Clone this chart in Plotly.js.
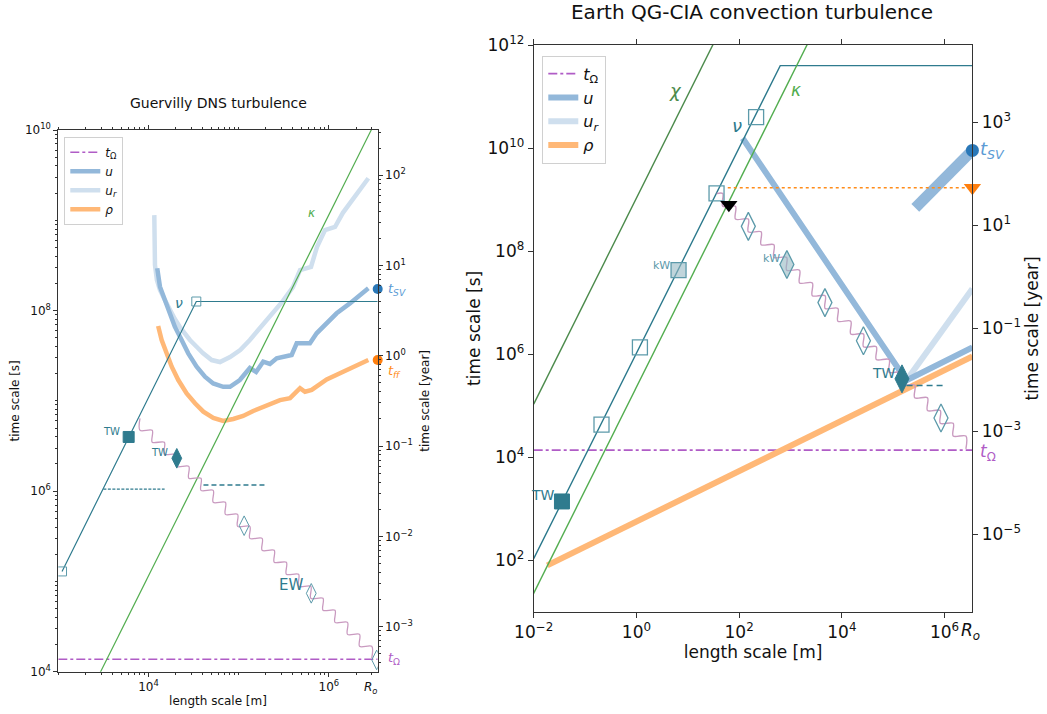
<!DOCTYPE html>
<html><head><meta charset="utf-8">
<script src="https://cdn.plot.ly/plotly-3.0.1.min.js"></script>
<style>body{margin:0;background:#fff}#plot{width:1047px;height:714px}</style>
</head><body><div id="plot"></div><script>
// ---------------- data ----------------
const Ro = 3.48e6;            // core radius [m]
const tOmega = 1.37e4;        // rotation time [s]
const secPerYear = 3.156e7;

// Left panel: Guervilly DNS turbulence
const gUrL = [1.16e4,1.16e4,1.18e4,1.24e4,1.34e4,1.52e4,1.73e4,1.96e4,2.23e4,2.53e4,2.88e4,3.44e4,4.01e4,5.02e4,6.21e4,8.02e4,1.04e5,1.33e5,1.72e5,2.22e5,3.10e5,4.00e5,4.79e5,6.34e5,7.38e5,9.06e5,1.17e6,1.43e6,1.72e6,2.21e6,2.74e6];
const gUrT = [1.14e9,6.05e8,3.20e8,2.18e8,1.69e8,1.31e8,1.01e8,8.05e7,6.57e7,5.50e7,4.72e7,3.95e7,3.39e7,2.83e7,2.69e7,3.06e7,3.66e7,4.72e7,6.41e7,8.49e7,1.28e8,1.82e8,2.81e8,3.04e8,5.06e8,7.80e8,8.43e8,1.21e9,1.55e9,2.16e9,2.92e9];
const gUL = [1.25e4,1.34e4,1.52e4,1.73e4,1.96e4,2.33e4,2.76e4,3.42e4,4.23e4,5.22e4,6.74e4,8.02e4,1.03e5,1.33e5,1.56e5,1.87e5,2.22e5,2.64e5,3.12e5,3.87e5,4.40e5,6.17e5,7.32e5,9.46e5,1.22e6,1.71e6,2.74e6];
const gUT = [2.94e8,1.84e8,1.31e8,9.33e7,6.63e7,4.72e7,3.36e7,2.39e7,1.85e7,1.56e7,1.43e7,1.43e7,1.70e7,2.31e7,2.09e7,2.72e7,2.56e7,2.96e7,3.08e7,3.22e7,4.34e7,4.34e7,5.60e7,7.23e7,9.33e7,1.20e8,1.77e8];
const gRhoL = [1.28e4,1.40e4,1.59e4,1.81e4,2.14e4,2.65e4,3.28e4,4.06e4,5.23e4,6.74e4,8.71e4,1.12e5,1.45e5,2.04e5,2.87e5,3.71e5,4.79e5,5.44e5,6.45e5,9.46e5,1.57e6,2.74e6];
const gRhoT = [6.75e7,4.72e7,3.36e7,2.39e7,1.70e7,1.21e7,9.39e6,7.59e6,6.46e6,5.98e6,6.30e6,6.80e6,7.72e6,9.00e6,1.02e7,1.07e7,1.38e7,1.26e7,1.32e7,1.73e7,2.20e7,2.83e7];
const gNuL = [1.10e3,3.39e4,Ro], gNuT = [1.29e5,1.26e8,1.26e8];
const gKapL = [2.5e3,3.55e6], gKapT = [7.2e3,1.45e10];
const gWaveL = [8.05e3,1.10e4,1.50e4,2.05e4,2.80e4,3.82e4,5.22e4,7.13e4,9.73e4,1.33e5,1.82e5,2.48e5,3.38e5,4.62e5,6.31e5,8.61e5,1.17e6,1.61e6,2.19e6,2.99e6];
const gWaveT = [6.41e6,4.72e6,3.48e6,2.56e6,1.88e6,1.39e6,1.02e6,7.52e5,5.53e5,4.07e5,3.00e5,2.21e5,1.63e5,1.20e5,8.83e4,6.50e4,4.79e4,3.52e4,2.59e4,1.91e4,1.41e4];
const gDash1L = [3.16e3,1.51e4], gDash1T = [1.05e6,1.05e6];
const gDash2L = [4.07e4,2.0e5],  gDash2T = [1.17e6,1.17e6];
const gSqOpenL = [1.10e3,3.39e4], gSqOpenT = [1.29e5,1.26e8];
const gSqTWL = [6.03e3], gSqTWT = [3.98e6];
const gDiaTWL = [2.06e4], gDiaTWT = [2.31e6];
const gDiaOpenL = [1.15e5,6.38e5,3.39e6], gDiaOpenT = [4.14e5,7.38e4,1.35e4];
const gTsvYear = 5.5, gTffYear = 0.90;   // secular-variation and free-fall times [year]

// Right panel: Earth QG-CIA convection turbulence
const eRhoL = [0.0184,Ro], eRhoT = [79.4,9.0e5];
const eUL = [117,1.8e5,Ro], eUT = [1.55e10,3.09e5,1.35e6];
const eUrL = [1.8e5,Ro], eUrT = [3.09e5,1.86e7];
const eSvL = [2.69e5,Ro], eSvT = [6.92e8,9.0e9];
const eChiL = [0.01,40], eChiT = [1.07e5,1.7e12];
const eNuL = [0.01,631,Ro], eNuT = [107,3.98e11,3.98e11];
const eKapL = [0.005,3000], eKapT = [5.7,2.06e12];
const eWaveL = [36.6,47.9,84.9,151,268,475,843,1.50e3,2.66e3,4.72e3,8.37e3,1.49e4,2.64e4,4.68e4,8.31e4,1.48e5,2.62e5,4.65e5,8.24e5,1.47e6,2.60e6];
const eWaveT = [1.31e9,7.38e8,4.18e8,2.36e8,1.33e8,7.54e7,4.26e7,2.41e7,1.36e7,7.71e6,4.36e6,2.46e6,1.39e6,7.87e5,4.45e5,2.51e5,1.42e5,8.04e4,4.54e4,2.57e4,1.45e4];
const eDashL = [1.82e5,1.0e6], eDashT = [2.45e5,2.45e5];
const eDotL = [60,Ro], eDotT = [1.70e9,1.70e9];
const eSqOpenL = [0.209,1.17,36.3,214], eSqOpenT = [4.27e4,1.35e6,1.32e9,3.98e10];
const eSqTWL = [0.0355], eSqTWT = [1.38e3];
const eSqKWL = [6.61], eSqKWT = [4.27e7];
const eDiaOpenL = [151,4.68e3,2.63e4,8.51e5], eDiaOpenT = [3.02e8,1.0e7,1.82e6,5.75e4];
const eDiaKWL = [851], eDiaKWT = [5.50e7];
const eDiaTWL = [1.48e5], eDiaTWT = [3.31e5];
const eTriBlackL = [63.1], eTriBlackT = [7.94e8];
const eTsvYear = 285, eTorangeYear = 54;  // [year]

// ---------------- styling ----------------
const FONT = 'DejaVu Sans, Liberation Sans, sans-serif';
const W = 1047, H = 714;
const px = x => x / W, py = y => 1 - y / H;
const teal = '#2f7b8e', purple = '#b05cc6', waveC = '#c99ac0';
const green = '#52ad4f', dgreen = '#4b8a4b';
const uC = '#93b8da', urC = '#cfdfee', rhoC = '#ffb877';

// staircase path: at each step position the curve drops to the next level
function stairs(Ls, Ts) {
  const x = [], y = [];
  for (let k = 0; k < Ls.length; k++) {
    x.push(Ls[k]); y.push(Ts[k]);
    x.push(Ls[k]); y.push(Ts[k + 1]);
  }
  return {x, y};
}
function stairsFlatFirst(Ls, Ts) {
  const x = [Ls[0]], y = [Ts[0]];
  for (let k = 1; k < Ls.length; k++) {
    x.push(Ls[k]); y.push(Ts[k - 1]);
    x.push(Ls[k]); y.push(Ts[k]);
  }
  return {x, y};
}
function minorVals(lo, hi, skip) {
  const v = [];
  for (let e = lo; e < hi; e++) for (let m = 1; m < 10; m++) {
    const val = m * Math.pow(10, e);
    if (!skip.some(s => Math.abs(s - val) / s < 1e-9)) v.push(val);
  }
  return v;
}
const sup = e => '10<sup>' + (e < 0 ? '\u2212' + (-e) : e) + '</sup>';

const gW = stairs(gWaveL, gWaveT);
const eW = stairsFlatFirst(eWaveL, eWaveT);

const L = {xaxis: 'x', yaxis: 'y', hoverinfo: 'skip'};
const L2 = {xaxis: 'x', yaxis: 'y2', hoverinfo: 'skip'};
const R = {xaxis: 'x2', yaxis: 'y3', hoverinfo: 'skip', legend: 'legend2'};
const R2 = {xaxis: 'x2', yaxis: 'y4', hoverinfo: 'skip', legend: 'legend2'};
const line = (x, y, col, w, extra) => Object.assign({x, y, mode: 'lines', showlegend: false, line: {color: col, width: w}}, extra || {});
const mk = (x, y, sym, size, col, fill, lw, extra) => Object.assign({x, y, mode: 'markers', showlegend: false,
  marker: {symbol: sym, size, color: fill, line: {color: col, width: lw}}}, extra || {});

const traces = [
  // ----- left panel -----
  Object.assign(line([1e3, Ro], [tOmega, tOmega], purple, 1.5, {name: '<i>t</i><sub>\u03a9</sub>', showlegend: true, legendrank: 1}), L, {line: {color: purple, width: 1.5, dash: 'dashdot'}}),
  Object.assign(line(gUrL, gUrT, urC, 4.5, {name: '<i>u<sub>r</sub></i>', showlegend: true, legendrank: 3}), L),
  Object.assign(line(gUL, gUT, uC, 4.5, {name: '<i>u</i>', showlegend: true, legendrank: 2}), L),
  Object.assign(line(gRhoL, gRhoT, rhoC, 4.5, {name: '<i>\u03c1</i>', showlegend: true, legendrank: 4}), L),
  Object.assign(line(gNuL, gNuT, teal, 1.2), L),
  Object.assign(line(gKapL, gKapT, green, 1.2), L),
  Object.assign(line(gW.x, gW.y, waveC, 1.3, {line: {color: waveC, width: 1.3, shape: 'spline', smoothing: 0.9}}), L),
  Object.assign(line(gDash1L, gDash1T, teal, 1.3, {line: {color: teal, width: 1.3, dash: '3px,1.5px'}}), L),
  Object.assign(line(gDash2L, gDash2T, teal, 1.3, {line: {color: teal, width: 1.3, dash: '5px,3px'}}), L),
  Object.assign(mk(gSqOpenL, gSqOpenT, 'square', 9, '#5c9aaa', 'rgba(255,255,255,0)', 1), L),
  Object.assign(mk(gSqTWL, gSqTWT, 'square', 11, teal, teal, 1), L),
  Object.assign(mk(gDiaTWL, gDiaTWT, 'diamond-tall', 14, teal, teal, 1), L),
  Object.assign(mk(gDiaOpenL, gDiaOpenT, 'diamond-tall', 14, '#5c9aaa', 'rgba(255,255,255,0)', 1), L),
  Object.assign(mk([Ro], [gTsvYear], 'circle', 10, '#2a78b8', '#2a78b8', 0, {cliponaxis: false}), L2),
  Object.assign(mk([Ro], [gTffYear], 'circle', 10, '#ff7f0e', '#ff7f0e', 0, {cliponaxis: false}), L2),
  // ----- right panel -----
  Object.assign(line([0.01, Ro], [tOmega, tOmega], purple, 1.6, {name: '<i>t</i><sub>\u03a9</sub>', showlegend: true, legendrank: 1}), R, {line: {color: purple, width: 1.6, dash: 'dashdot'}}),
  Object.assign(line(eRhoL, eRhoT, rhoC, 6, {name: '<i>\u03c1</i>', showlegend: true, legendrank: 4}), R),
  Object.assign(line(eUrL, eUrT, urC, 6, {name: '<i>u<sub>r</sub></i>', showlegend: true, legendrank: 3}), R),
  Object.assign(line(eUL, eUT, uC, 6, {name: '<i>u</i>', showlegend: true, legendrank: 2}), R),
  Object.assign(line(eSvL, eSvT, uC, 11), R),
  Object.assign(line(eChiL, eChiT, dgreen, 1.4), R),
  Object.assign(line(eNuL, eNuT, teal, 1.4), R),
  Object.assign(line(eKapL, eKapT, green, 1.4), R),
  Object.assign(line(eW.x, eW.y, waveC, 1.4, {line: {color: waveC, width: 1.4, shape: 'spline', smoothing: 0.9}}), R),
  Object.assign(line(eDashL, eDashT, teal, 1.5, {line: {color: teal, width: 1.5, dash: '6px,4px'}}), R),
  Object.assign(line(eDotL, eDotT, '#ff8c1a', 1.6, {line: {color: '#ff8c1a', width: 1.6, dash: 'dot'}}), R),
  Object.assign(mk(eSqOpenL, eSqOpenT, 'square', 15, '#5c9aaa', 'rgba(255,255,255,0)', 1.3), R),
  Object.assign(mk(eSqTWL, eSqTWT, 'square', 15, teal, teal, 1), R),
  Object.assign(mk(eSqKWL, eSqKWT, 'square', 15, '#5c9aaa', 'rgba(150,185,195,0.6)', 1.3), R),
  Object.assign(mk(eDiaOpenL, eDiaOpenT, 'diamond-tall', 20, '#5c9aaa', 'rgba(255,255,255,0)', 1.3), R),
  Object.assign(mk(eDiaKWL, eDiaKWT, 'diamond-tall', 20, '#5c9aaa', 'rgba(150,185,195,0.6)', 1.3), R),
  Object.assign(mk(eDiaTWL, eDiaTWT, 'diamond-tall', 20, teal, teal, 1), R),
  Object.assign(mk(eTriBlackL, eTriBlackT, 'triangle-down', 15, '#000', '#000', 0), R),
  Object.assign(mk([Ro], [eTorangeYear], 'triangle-down', 15, '#ff7f0e', '#ff7f0e', 0, {cliponaxis: false}), R2),
  Object.assign(mk([Ro], [eTsvYear], 'circle', 13, '#2a78b8', '#2a78b8', 0, {cliponaxis: false}), R2),
];

const axBase = {type: 'log', showgrid: false, zeroline: false, showline: true, linecolor: '#333', linewidth: 1,
  ticks: 'outside', tickcolor: '#333', tickmode: 'array', autorange: false};
const yrOff = Math.log10(secPerYear);

const layout = {
  width: W, height: H, margin: {l: 0, r: 0, t: 0, b: 0},
  paper_bgcolor: '#fff', plot_bgcolor: '#fff',
  font: {family: FONT, color: '#111'},
  showlegend: true,
  title: {text: 'Earth QG-CIA convection turbulence', x: px(752), xanchor: 'center', y: py(12), yanchor: 'middle',
    font: {size: 20, family: FONT, color: '#111'}},
  xaxis: Object.assign({}, axBase, {domain: [px(58.3), px(377.7)], anchor: 'y', range: [3, Math.log10(Ro)], mirror: 'ticks',
    tickvals: [1e4, 1e6], ticktext: [sup(4), sup(6)], ticklen: 4, tickfont: {size: 12},
    minor: {tickvals: minorVals(3, 7, [1e4, 1e6]), ticks: 'outside', ticklen: 2, tickcolor: '#333'},
    title: {text: 'length scale [m]', font: {size: 12}, standoff: 3}}),
  yaxis: Object.assign({}, axBase, {domain: [py(671.7), py(130)], anchor: 'x', range: [4, 10],
    tickvals: [1e4, 1e6, 1e8, 1e10], ticktext: [sup(4), sup(6), sup(8), sup(10)], ticklen: 4, tickfont: {size: 12},
    minor: {tickvals: minorVals(4, 10, [1e4, 1e6, 1e8, 1e10]), ticks: 'outside', ticklen: 2, tickcolor: '#333'},
    title: {text: 'time scale [s]', font: {size: 12}, standoff: 2}}),
  yaxis2: Object.assign({}, axBase, {overlaying: 'y', side: 'right', anchor: 'x',
    range: [4 - yrOff, 10 - yrOff],
    tickvals: [1e-3, 1e-2, 1e-1, 1, 10, 100], ticktext: [sup(-3), sup(-2), sup(-1), sup(0), sup(1), sup(2)],
    ticklen: 4, tickfont: {size: 12},
    minor: {tickvals: minorVals(-4, 3, [1e-3, 1e-2, 1e-1, 1, 10, 100]), ticks: 'outside', ticklen: 2, tickcolor: '#333'},
    title: {text: 'time scale [year]', font: {size: 12}, standoff: 8}}),
  xaxis2: Object.assign({}, axBase, {domain: [px(533.7), px(972.4)], anchor: 'y3', range: [-2, Math.log10(Ro)], mirror: 'ticks',
    tickvals: [1e-2, 1, 1e2, 1e4, 1e6], ticktext: [sup(-2), sup(0), sup(2), sup(4), sup(6)], ticklen: 5, tickfont: {size: 17},
    title: {text: 'length scale [m]', font: {size: 17}, standoff: 4}}),
  yaxis3: Object.assign({}, axBase, {domain: [py(611.7), py(45)], anchor: 'x2', range: [1, 12],
    tickvals: [1e2, 1e4, 1e6, 1e8, 1e10, 1e12], ticktext: [sup(2), sup(4), sup(6), sup(8), sup(10), sup(12)],
    ticklen: 5, tickfont: {size: 17},
    title: {text: 'time scale [s]', font: {size: 17}, standoff: 2}}),
  yaxis4: Object.assign({}, axBase, {overlaying: 'y3', side: 'right', anchor: 'x2',
    range: [1 - yrOff, 12 - yrOff],
    tickvals: [1e-5, 1e-3, 1e-1, 10, 1e3], ticktext: [sup(-5), sup(-3), sup(-1), sup(1), sup(3)],
    ticklen: 5, tickfont: {size: 17},
    title: {text: 'time scale [year]', font: {size: 17}, standoff: 6}}),
  legend: {x: px(64.3), y: py(136.7), xanchor: 'left', yanchor: 'top', bgcolor: 'rgba(255,255,255,0.9)',
    bordercolor: '#d0d0d0', borderwidth: 1, font: {size: 12, family: FONT}, tracegroupgap: 0, itemwidth: 30, traceorder: 'normal'},
  legend2: {x: px(542.3), y: py(55.7), xanchor: 'left', yanchor: 'top', bgcolor: 'rgba(255,255,255,0.9)',
    bordercolor: '#d0d0d0', borderwidth: 1, font: {size: 16, family: FONT}, tracegroupgap: 0, itemwidth: 30, traceorder: 'normal'},
  annotations: [
    {text: 'Guervilly DNS turbulence', x: px(218), y: py(103), font: {size: 14}},
    {text: '<i>\u03bd</i>', x: px(179), y: py(303), font: {size: 14, color: teal}},
    {text: '<i>\u03ba</i>', x: px(312), y: py(213), font: {size: 12, color: green}},
    {text: 'TW', x: px(111), y: py(431), font: {size: 10, color: teal}},
    {text: 'TW', x: px(159), y: py(452), font: {size: 10, color: teal}},
    {text: 'EW', x: px(291), y: py(585), font: {size: 15, color: teal}},
    {text: '<i>t<sub>SV</sub></i>', x: px(386), y: py(289), xanchor: 'left', font: {size: 13, color: '#5b9bd5'}},
    {text: '<i>t<sub>ff</sub></i>', x: px(386), y: py(371), xanchor: 'left', font: {size: 13, color: '#ff8c1a'}},
    {text: '<i>t</i><sub>\u03a9</sub>', x: px(386), y: py(658), xanchor: 'left', font: {size: 13, color: purple}},
    {text: '<i>R<sub>o</sub></i>', x: px(370), y: py(688), font: {size: 12, color: '#111'}},
    {text: '<i>\u03c7</i>', x: px(675), y: py(90), font: {size: 18, color: dgreen}},
    {text: '<i>\u03ba</i>', x: px(796), y: py(90), font: {size: 17, color: green}},
    {text: '<i>\u03bd</i>', x: px(737), y: py(125), font: {size: 18, color: teal}},
    {text: 'kW', x: px(661), y: py(265), font: {size: 11, color: '#5c9aaa'}},
    {text: 'kW', x: px(771), y: py(258), font: {size: 11, color: '#5c9aaa'}},
    {text: 'TW', x: px(543), y: py(495), font: {size: 14, color: teal}},
    {text: 'TW', x: px(884), y: py(373), font: {size: 14, color: teal}},
    {text: '<i>t<sub>SV</sub></i>', x: px(978), y: py(150), xanchor: 'left', font: {size: 18, color: '#5b9bd5'}},
    {text: '<i>t</i><sub>\u03a9</sub>', x: px(978), y: py(452), xanchor: 'left', font: {size: 17, color: purple}},
    {text: '<i>R<sub>o</sub></i>', x: px(970), y: py(631), font: {size: 17, color: '#111'}},
  ].map(a => Object.assign({xref: 'paper', yref: 'paper', showarrow: false, xanchor: 'center', yanchor: 'middle'}, a,
    {font: Object.assign({family: FONT, color: '#111'}, a.font)})),
};

Plotly.newPlot('plot', traces, layout, {staticPlot: true});
</script></body></html>
